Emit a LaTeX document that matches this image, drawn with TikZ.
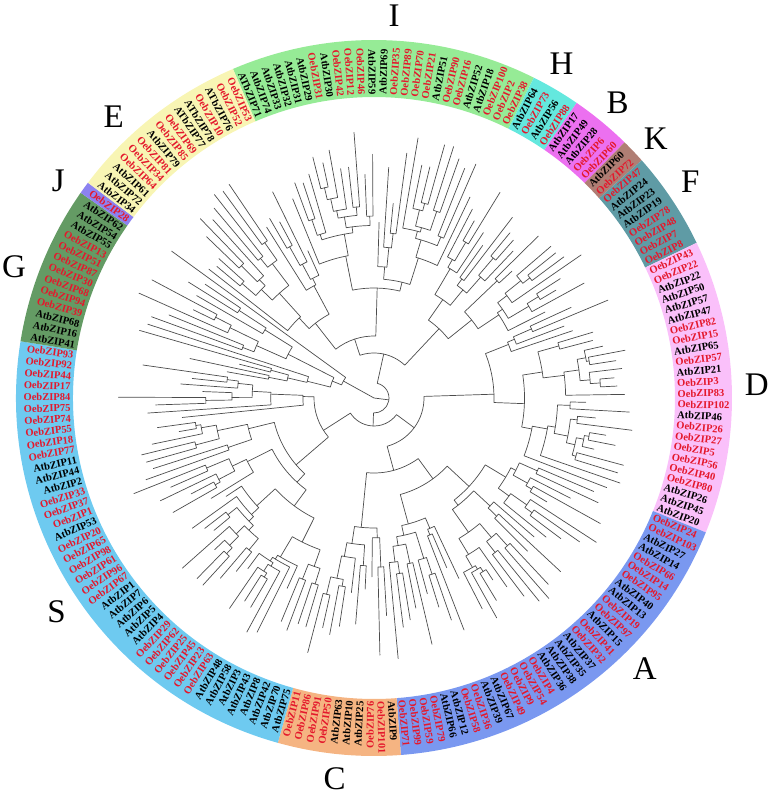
\documentclass[tikz,border=0pt]{standalone}
\usepackage{fontspec}
\setmainfont{Liberation Serif}
\definecolor{labr}{RGB}{228,24,44}
\definecolor{labk}{RGB}{0,0,0}
\definecolor{grpI}{RGB}{150,235,150}
\definecolor{grpH}{RGB}{100,232,222}
\definecolor{grpB}{RGB}{236,112,240}
\definecolor{grpK}{RGB}{176,126,116}
\definecolor{grpF}{RGB}{95,155,165}
\definecolor{grpD}{RGB}{250,192,250}
\definecolor{grpA}{RGB}{122,152,240}
\definecolor{grpC}{RGB}{245,180,130}
\definecolor{grpS}{RGB}{110,202,240}
\definecolor{grpG}{RGB}{100,155,100}
\definecolor{grpJ}{RGB}{140,130,240}
\definecolor{grpE}{RGB}{248,245,180}
\newcommand\clade[3]{%
  \ifnum#1<#2\relax
    \pgfmathtruncatemacro\ck{#1+floor(rnd*(#2-#1))}%
    \pgfmathtruncatemacro\cm{\ck+1}%
    \pgfmathsetmacro\aL{113.2-((#1+\ck)/2+0.5)*1.98895}%
    \pgfmathsetmacro\aR{113.2-((\cm+#2)/2+0.5)*1.98895}%
    \ifnum#1=\ck\relax\pgfmathsetmacro\rL{#3+(280-#3)*(0.15+0.7*rnd)}%
    \else\pgfmathsetmacro\rL{#3+(258-#3)*(0.05+0.2*rnd)}\fi
    \ifnum\cm=#2\relax\pgfmathsetmacro\rR{#3+(280-#3)*(0.15+0.7*rnd)}%
    \else\pgfmathsetmacro\rR{#3+(258-#3)*(0.05+0.2*rnd)}\fi
    \draw[tree] (\aL:\rL) -- (\aL:#3) arc[start angle=\aL,end angle=\aR,radius=#3pt] -- (\aR:\rR);
    \edef\cladenext{\noexpand\clade{#1}{\ck}{\rL}\noexpand\clade{\cm}{#2}{\rR}}%
    \cladenext
  \fi}
\newcommand\bjoin[5]{\draw[tree] (#2:#3) -- (#2:#1) arc[start angle=#2,end angle=#4,radius=#1pt] -- (#4:#5);}
\begin{document}
\begin{tikzpicture}[x=1pt,y=1pt,line join=round,line cap=round]
\tikzset{tree/.style={draw=black!70,line width=0.7pt},
  lab/.style={font=\fontsize{10.5}{12}\selectfont\bfseries,inner sep=0.5pt},
  grp/.style={font=\fontsize{33}{33}\selectfont,inner sep=0pt}}
\useasboundingbox (-374,-395) rectangle (394,398);
\foreach \f/\l/\c in {0/25/grpI,25/29/grpH,29/34/grpB,34/36/grpK,36/44/grpF,44/68/grpD,68/100/grpA,100/110/grpC,110/152/grpS,152/165/grpG,165/166/grpJ,166/181/grpE}{
  \pgfmathsetmacro\sa{113.2-\f*1.98895}
  \pgfmathsetmacro\ea{113.2-\l*1.98895}
  \fill[\c] (\sa:301) arc[start angle=\sa,end angle=\ea,radius=301pt] -- (\ea:358) arc[start angle=\ea,end angle=\sa,radius=358pt] -- cycle;
}
\pgfmathsetseed{5}
\draw[tree] (-7.2:15) -- (0,0) -- (150.99:35);
\bjoin{15}{77.52}{45}{-91.91}{28}
\bjoin{45}{108.23}{62}{46.82}{95}
\bjoin{62}{128.117}{95}{88.338}{110}
\bjoin{95}{55.02}{120}{38.61}{125}
\bjoin{120}{59.498}{150}{50.548}{140}
\bjoin{125}{43.587}{170}{33.642}{150}
\bjoin{28}{-36.47}{50}{-147.352}{60}
\bjoin{50}{1.819}{120}{-74.76}{75}
\bjoin{75}{-53.872}{100}{-95.640}{130}
\bjoin{35}{157.951}{45}{144.029}{250}
\clade{0}{24}{110}
\clade{25}{28}{150}
\clade{29}{33}{140}
\clade{34}{35}{170}
\clade{36}{43}{150}
\clade{44}{67}{120}
\clade{68}{99}{100}
\clade{100}{109}{130}
\clade{110}{151}{60}
\clade{152}{164}{45}
\clade{166}{180}{95}
\foreach \nm/\cl [count=\i from 0] in {ATbZIP71/k,AtbZIP74/k,AtbZIP33/k,AtbZIP32/k,AtbZIP31/k,AtbZIP29/k,OebZIP31/r,AtbZIP30/k,OebZIP42/r,OebZIP12/r,OebZIP46/r,AtbZIP59/k,AtbZIP69/k,OebZIP35/r,OebZIP89/r,OebZIP70/r,OebZIP21/r,AtbZIP51/k,OebZIP90/r,OebZIP16/r,AtbZIP52/k,AtbZIP18/k,OebZIP100/r,OebZIP2/r,OebZIP38/r,
  AtbZIP64/k,OebZIP73/r,AtbZIP56/k,OebZIP88/r,
  AtbZIP17/k,AtbZIP49/k,AtbZIP28/k,OebZIP6/r,OebZIP60/r,
  AtbZIP60/k,OebZIP72/r,
  OebZIP47/r,AtbZIP24/k,AtbZIP23/k,AtbZIP19/k,OebZIP78/r,OebZIP48/r,OebZIP7/r,OebZIP8/r,
  OebZIP43/r,OebZIP22/r,AtbZIP22/k,AtbZIP50/k,AtbZIP57/k,AtbZIP47/k,OebZIP82/r,OebZIP15/r,AtbZIP65/k,OebZIP57/r,AtbZIP21/k,OebZIP3/r,OebZIP83/r,OebZIP102/r,AtbZIP46/k,OebZIP26/r,OebZIP27/r,OebZIP5/r,OebZIP56/r,OebZIP40/r,OebZIP80/r,AtbZIP26/k,AtbZIP45/k,AtbZIP20/k,
  OebZIP24/r,OebZIP103/r,AtbZIP27/k,AtbZIP14/k,OebZIP66/r,OebZIP14/r,OebZIP95/r,AtbZIP40/k,AtbZIP13/k,OebZIP19/r,OebZIP97/r,AtbZIP15/k,OebZIP41/r,OebZIP32/r,AtbZIP37/k,AtbZIP35/k,AtbZIP38/k,AtbZIP36/k,OebZIP4/r,OebZIP54/r,OebZIP9/r,OebZIP49/r,AtbZIP67/k,AtbZIP39/k,OebZIP36/r,OebZIP58/r,AtbZIP12/k,AtbZIP66/k,OebZIP79/r,OebZIP59/r,OebZIP99/r,OebZIP71/r,
  AtbZIP9/k,OebZIP101/r,OebZIP76/r,AtbZIP25/k,AtbZIP10/k,AtbZIP63/k,OebZIP50/r,OebZIP91/r,OebZIP86/r,OebZIP11/r,
  AtbZIP75/k,AtbZIP70/k,AtbZIP42/k,AtbZIP8/k,AtbZIP43/k,AtbZIP3/k,AtbZIP58/k,AtbZIP48/k,OebZIP63/r,OebZIP23/r,OebZIP45/r,OebZIP25/r,OebZIP62/r,OebZIP29/r,AtbZIP4/k,AtbZIP5/k,AtbZIP6/k,AtbZIP7/k,AtbZIP1/k,OebZIP67/r,OebZIP96/r,OebZIP61/r,OebZIP98/r,OebZIP65/r,OebZIP20/r,AtbZIP53/k,OebZIP1/r,OebZIP37/r,OebZIP33/r,AtbZIP2/k,AtbZIP44/k,AtbZIP11/k,OebZIP77/r,OebZIP18/r,OebZIP55/r,OebZIP74/r,OebZIP75/r,OebZIP84/r,OebZIP17/r,OebZIP44/r,OebZIP92/r,OebZIP93/r,
  AtbZIP41/k,AtbZIP16/k,AtbZIP68/k,OebZIP39/r,OebZIP94/r,OebZIP68/r,OebZIP30/r,OebZIP87/r,OebZIP51/r,OebZIP13/r,AtbZIP55/k,AtbZIP54/k,AtbZIP62/k,
  OebZIP28/r,
  AtbZIP34/k,AtbZIP72/k,AtbZIP61/k,OebZIP64/r,OebZIP34/r,OebZIP81/r,AtbZIP79/k,OebZIP85/r,OebZIP69/r,ATbZIP77/k,ATbZIP78/k,OebZIP10/r,ATbZIP76/k,OebZIP52/r,OebZIP53/r}{
  \pgfmathsetmacro\a{113.2-(\i+0.5)*1.98895}
  \pgfmathtruncatemacro\rs{cos(\a)>0}
  \ifnum\rs=1 \def\an{west}\let\ro\a\else\def\an{east}\pgfmathsetmacro\ro{\a+180}\fi
  \node[lab,text=lab\cl,rotate=\ro,anchor=\an] (l\i) at (\a:303) {\nm};
}
\foreach \g/\a in {I/87,H/60.7,B/50.5,K/42.6,F/34.3,D/2,A/-45,C/-95.9,S/-146,G/160,J/145.5,E/132.8}
  \node[grp] (g\g) at (\a:383) {\g};
\end{tikzpicture}
\end{document}
